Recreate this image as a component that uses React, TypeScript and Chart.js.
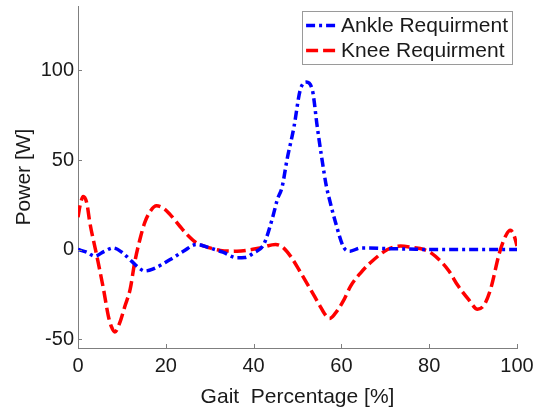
import React, { useEffect, useRef } from "react";
import { Chart, registerables } from "chart.js";

Chart.register(...registerables);

const FONT = '"Liberation Sans", Arial, Helvetica, sans-serif';
const TEXT_COLOR = "#1a1a1a";
const AXIS_COLOR = "#7f7f7f";

const seriesLabels = ["Ankle Requirment", "Knee Requirment"];
const xTickValues = [0, 20, 40, 60, 80, 100];
const yTickValues = [-50, 0, 50, 100];

const ankleX = [0, 2, 3.8, 6, 8, 10, 12.2, 14, 15.2, 17, 21, 24, 27, 30, 33, 36.2, 38, 40, 42.3, 44.2, 45.4, 46.5, 47.6, 49.2, 50.6, 52, 53.4, 54.5, 55.6, 56.6, 57.3, 58.7, 60.6, 62, 64.4, 66, 70, 75, 80, 90, 100];
const ankleY = [0, -1.5, -3.7, -1, 0.9, -1.5, -6.5, -10.5, -12, -11, -5.6, -1, 2.8, 0.9, -1.5, -4.6, -4.5, -1.9, 2.8, 16.7, 27.8, 35, 50, 68.5, 88.9, 93.5, 88.9, 68.5, 50, 35, 27.8, 14.8, 0.9, -0.9, 0.9, 0.9, 0.5, 0.3, 0, 0, 0];

const kneeX = [0, 0.5, 1.2, 2, 2.7, 4.3, 5.8, 6.9, 7.6, 8.4, 9.5, 10.7, 11.9, 12.9, 14.1, 15.2, 16.5, 17.9, 19.5, 21, 23.2, 25, 27, 30, 32.4, 36.2, 41.5, 45, 46.5, 48.4, 50.5, 52.9, 55, 56.2, 57.3, 58.5, 60.6, 62.1, 64.4, 66.6, 70.5, 73.5, 76, 78.8, 80.5, 82.6, 84.5, 86.5, 89, 91, 92.5, 94, 96, 97.5, 98.5, 99.3, 100];
const kneeY = [18, 25, 29.6, 26, 15, -3.7, -22, -37, -43, -46, -41, -31.5, -22, -7.4, 5.6, 15, 21.5, 24.4, 23, 19.5, 13, 8, 3.7, 0.9, -0.5, -0.9, 0.9, 2.8, 1.5, -3.7, -12, -22, -31, -36, -38.5, -36, -28, -20.4, -13, -7.4, 0, 1.9, 1.2, 0, -2, -6.5, -12, -20, -28, -33.3, -31, -22, -1.9, 8, 10.7, 8, 2];

const seriesColors = ["#0000ff", "#ff0000"];
const seriesDashes = [[9, 4, 3, 4], [12, 5]];

const inwardTicks = {
  id: "inwardTicks",
  afterDatasetsDraw(chart: any) {
    const { ctx, chartArea, scales } = chart;
    ctx.save();
    ctx.strokeStyle = AXIS_COLOR;
    ctx.lineWidth = 1;
    ctx.setLineDash([]);
    for (const v of xTickValues) {
      const px = Math.round(scales.x.getPixelForValue(v)) + 0.5;
      ctx.beginPath();
      ctx.moveTo(px, chartArea.bottom);
      ctx.lineTo(px, chartArea.bottom - 4);
      ctx.stroke();
    }
    for (const v of yTickValues) {
      const py = Math.round(scales.y.getPixelForValue(v)) + 0.5;
      ctx.beginPath();
      ctx.moveTo(chartArea.left, py);
      ctx.lineTo(chartArea.left + 4, py);
      ctx.stroke();
    }
    ctx.restore();
  },
};

const boxLegend = {
  id: "boxLegend",
  afterDraw(chart: any) {
    const { ctx, chartArea } = chart;
    const ds = chart.data.datasets;
    ctx.save();
    ctx.font = `21px ${FONT}`;
    let maxW = 0;
    for (const d of ds) maxW = Math.max(maxW, ctx.measureText(d.label).width);
    const sample = 32;
    const w = 4 + sample + 3 + maxW + 4;
    const h = 53;
    const right = chartArea.right - 5;
    const left = right - w;
    const top = chartArea.top + 5;
    ctx.fillStyle = "#ffffff";
    ctx.fillRect(left, top, w, h);
    ctx.strokeStyle = "#9a9a9a";
    ctx.lineWidth = 1;
    ctx.setLineDash([]);
    ctx.strokeRect(Math.round(left) + 0.5, Math.round(top) + 0.5, Math.round(w), h);
    ds.forEach((d: any, i: number) => {
      const cy = top + 14.5 + i * 25;
      ctx.save();
      ctx.strokeStyle = d.borderColor;
      ctx.lineWidth = d.borderWidth;
      ctx.lineCap = "butt";
      ctx.setLineDash(d.borderDash);
      ctx.beginPath();
      ctx.moveTo(left + 4, cy);
      ctx.lineTo(left + 4 + sample, cy);
      ctx.stroke();
      ctx.restore();
      ctx.fillStyle = TEXT_COLOR;
      ctx.textAlign = "left";
      ctx.textBaseline = "middle";
      ctx.fillText(d.label, left + 4 + sample + 3, cy + 0.5);
    });
    ctx.restore();
  },
};

export default function App() {
  const ref = useRef<HTMLCanvasElement | null>(null);
  useEffect(() => {
    if (!ref.current) return;
    const chart = new Chart(ref.current, {
      type: "line",
      data: {
        datasets: [
          {
            label: seriesLabels[0],
            data: ankleX.map((x, i) => ({ x, y: ankleY[i] })),
            borderColor: seriesColors[0],
            borderWidth: 3.5,
            borderDash: seriesDashes[0],
            borderCapStyle: "butt",
            pointRadius: 0,
            fill: false,
            cubicInterpolationMode: "monotone",
          },
          {
            label: seriesLabels[1],
            data: kneeX.map((x, i) => ({ x, y: kneeY[i] })),
            borderColor: seriesColors[1],
            borderWidth: 3.5,
            borderDash: seriesDashes[1],
            borderCapStyle: "butt",
            pointRadius: 0,
            fill: false,
            cubicInterpolationMode: "monotone",
          },
        ],
      },
      options: {
        animation: false,
        responsive: true,
        maintainAspectRatio: false,
        layout: { padding: { left: 0, right: 21, top: 6, bottom: 0 } },
        plugins: { legend: { display: false }, tooltip: { enabled: false } },
        scales: {
          x: {
            type: "linear",
            min: 0,
            max: 100,
            afterBuildTicks: (s: any) => {
              s.ticks = xTickValues.map((v) => ({ value: v }));
            },
            afterFit: (s: any) => {
              s.height = 62;
              s.paddingLeft = 0;
              s.paddingRight = 0;
            },
            grid: { display: false, drawTicks: false },
            border: { display: true, color: AXIS_COLOR, width: 1 },
            ticks: {
              font: { size: 20, family: FONT },
              color: TEXT_COLOR,
              padding: 6,
              maxRotation: 0,
              autoSkip: false,
            },
            title: {
              display: true,
              text: "Gait  Percentage [%]",
              font: { size: 21, family: FONT },
              color: TEXT_COLOR,
              padding: { top: 0, bottom: 0 },
            },
          },
          y: {
            type: "linear",
            min: -55,
            max: 136,
            afterBuildTicks: (s: any) => {
              s.ticks = yTickValues.map((v) => ({ value: v }));
            },
            afterFit: (s: any) => {
              s.width = 78;
              s.paddingTop = 0;
              s.paddingBottom = 0;
            },
            grid: { display: false, drawTicks: false },
            border: { display: true, color: AXIS_COLOR, width: 1 },
            ticks: {
              font: { size: 20, family: FONT },
              color: TEXT_COLOR,
              padding: 4,
              autoSkip: false,
            },
            title: {
              display: true,
              text: "Power [W]",
              font: { size: 21, family: FONT },
              color: TEXT_COLOR,
              padding: { top: 12, bottom: 0 },
            },
          },
        },
      },
      plugins: [inwardTicks, boxLegend],
    } as any);
    return () => chart.destroy();
  }, []);
  return (
    <div style={{ position: "fixed", left: 0, top: 0, width: 538, height: 410, background: "#fff" }}>
      <canvas ref={ref} />
    </div>
  );
}
